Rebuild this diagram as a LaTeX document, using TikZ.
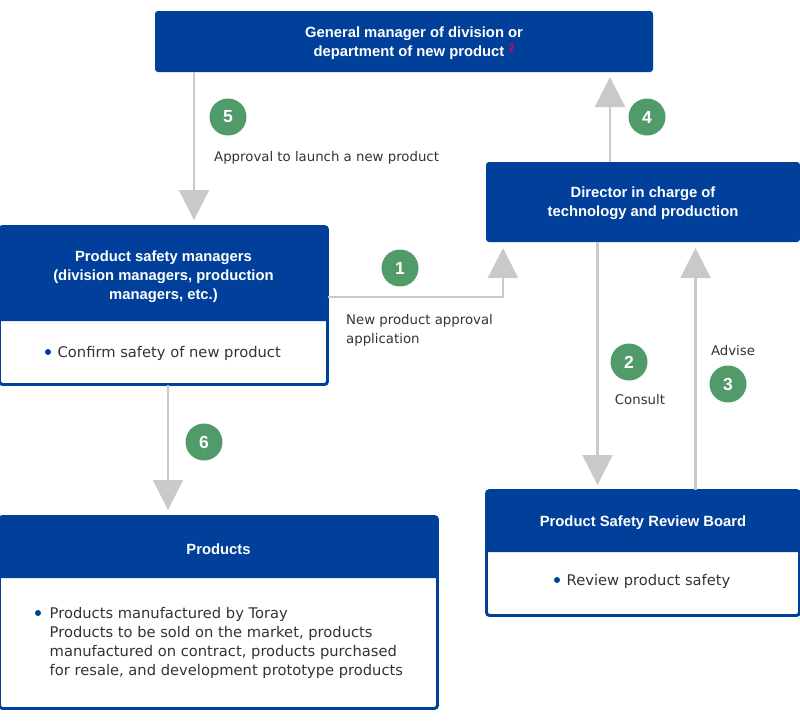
\documentclass[tikz,border=0pt]{standalone}
\usepackage{fontspec}
\setmainfont{Liberation Sans}
\newfontfamily\bodyf{DejaVu Sans}
\usetikzlibrary{arrows.meta,calc}
\definecolor{tblue}{HTML}{00409A}
\definecolor{tgreen}{HTML}{519B6B}
\definecolor{tgray}{HTML}{C9C9C9}
\definecolor{ttext}{HTML}{333333}
\definecolor{tred}{HTML}{E4004F}
\begin{document}
\begin{tikzpicture}[x=1pt,y=-1pt,
  hdr/.style={fill=tblue, rounded corners=3pt, inner sep=0pt},
  outline/.style={draw=tblue, line width=1.8pt, rounded corners=3pt, inner sep=0pt},
  ttl/.style={text=white, font=\fontsize{14.8}{19}\selectfont\bfseries, align=center, inner sep=0pt},
  body/.style={text=ttext, font=\bodyf\fontsize{14.7}{19}\selectfont, align=left, inner sep=0pt},
  lbl/.style={text=ttext, font=\bodyf\fontsize{13.3}{19}\selectfont, align=left, inner sep=0pt},
  num/.style={circle, fill=tgreen, minimum size=37pt, inner sep=0pt, text=white, font=\fontsize{17.5}{17.5}\selectfont\bfseries},
  flow/.style={draw=tgray, line width=2.3pt, -{Triangle[width=30pt,length=30pt]}},
  bdot/.style={circle, fill=tblue, minimum size=6pt, inner sep=0pt}]
\useasboundingbox (0,0) rectangle (800,726);

% top box
\node[hdr, minimum width=498pt, minimum height=61pt] (gm) at (404,41.5) {};
\node[ttl] (gmt) at (414,43) {General manager of division or\\department of new product {\fontsize{10.5}{10.5}\selectfont\raisebox{4.5pt}{\textcolor{tred}{2}}}};

% director box
\node[hdr, minimum width=314pt, minimum height=80pt] (dir) at (643,202) {};
\node[ttl] (dirt) at (643,203.5) {Director in charge of\\technology and production};

% product safety managers
\node[outline, minimum width=327pt, minimum height=157pt] (psm) at (163.5,305.5) {};
\fill[tblue] (0,321) [rounded corners=3pt] -- (0,227) -- (327,227) [sharp corners] -- (327,321) -- cycle;
\draw[tblue, line width=1.8pt, rounded corners=3pt] (psm.north west) rectangle (psm.south east);
\node[ttl] (psmt) at (163.5,276.5) {Product safety managers\\(division managers, production\\managers, etc.)};
\node[bdot] (psmd) at (48,352) {};
\node[body, anchor=west] (psmb) at (57.5,353) {Confirm safety of new product};

% products
\node[outline, minimum width=437pt, minimum height=191pt] (prod) at (218.5,612.5) {};
\fill[tblue] (0,578) [rounded corners=3pt] -- (0,517) -- (437,517) [sharp corners] -- (437,578) -- cycle;
\draw[tblue, line width=1.8pt, rounded corners=3pt] (prod.north west) rectangle (prod.south east);
\node[ttl] (prodt) at (218.5,549.5) {Products};
\node[bdot] (prodd) at (38,613) {};
\node[body, anchor=west] (prodb) at (49.5,642.5) {Products manufactured by Toray\\Products to be sold on the market, products\\manufactured on contract, products purchased\\for resale, and development prototype products};

% review board
\node[outline, minimum width=312pt, minimum height=124pt] (rb) at (643,553) {};
\fill[tblue] (487,552) [rounded corners=3pt] -- (487,491) -- (799,491) [sharp corners] -- (799,552) -- cycle;
\draw[tblue, line width=1.8pt, rounded corners=3pt] (rb.north west) rectangle (rb.south east);
\node[ttl] (rbt) at (643,522.5) {Product Safety Review Board};
\node[bdot] (rbd) at (557,580) {};
\node[body, anchor=west] (rbb) at (566.5,581) {Review product safety};

% arrows
\coordinate (t5) at (194,220);
\draw[flow] (gm.south -| t5) -- (t5);
\coordinate (t4) at (610,77);
\draw[flow] (dir.north -| t4) -- (t4);
\coordinate (k1) at (503,297);
\coordinate (t1) at (503,248);
\draw[flow] (psm.east |- k1) -- (k1) -- (t1);
\coordinate (t2) at (597.5,485);
\draw[flow] (dir.south -| t2) -- (t2);
\coordinate (t3) at (695.5,248);
\draw[flow] (rb.north -| t3) -- (t3);
\coordinate (t6) at (168,510);
\draw[flow] (psm.south -| t6) -- (t6);

% number circles
\node[num] (n1) at (400,268) {1};
\node[num] (n2) at (629,362) {2};
\node[num] (n3) at (728,384) {3};
\node[num] (n4) at (647,117) {4};
\node[num] (n5) at (228,117) {5};
\node[num] (n6) at (204,442) {6};

% labels
\node[lbl, anchor=west] (l5) at (214,158) {Approval to launch a new product};
\node[lbl, anchor=west] (l1) at (346,330.5) {New product approval\\application};
\node[lbl] (l2) at (640,400) {Consult};
\node[lbl] (l3) at (733,350.5) {Advise};
\end{tikzpicture}
\end{document}
